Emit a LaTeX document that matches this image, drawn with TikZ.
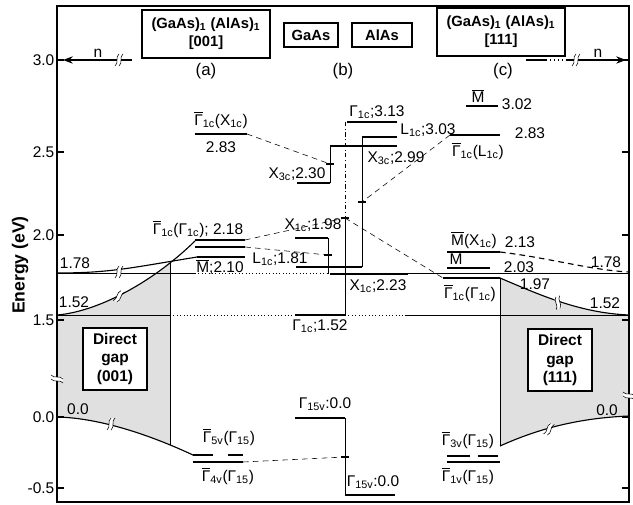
\documentclass[tikz,border=0pt]{standalone}
\usepackage{fontspec}
\setmainfont{Liberation Sans}
\usetikzlibrary{arrows.meta}

\newcommand{\Gb}{\ensuremath{\overline{\mbox{Γ}}}}
\newcommand{\Mb}{\ensuremath{\overline{\mbox{M}}}}
\newcommand{\lo}[1]{\textsubscript{#1}}

\tikzset{
  brk/.pic={
    \fill[white] (-1,-6) rectangle (3,6);
    \draw[thin] (-3,6) .. controls (1,3) and (-3,-3) .. (1,-6);
    \draw[thin] (1,6) .. controls (5,3) and (1,-3) .. (5,-6);
  }
}

\begin{document}
\begin{tikzpicture}[x=0.025cm, y=-0.025cm,
    lev/.style={line width=1.8pt},
    conn/.style={dash pattern=on 4pt off 3pt},
    lab/.style={font=\fontsize{11}{13}\selectfont, inner sep=1pt},
    tbox/.style={draw, line width=1.4pt, font=\bfseries\fontsize{10.5}{13}\selectfont, align=center, inner sep=2pt},
    gbox/.style={draw, line width=1.4pt, fill=white, font=\bfseries\fontsize{11}{13}\selectfont, align=center, minimum width=1.6cm, minimum height=1.55cm}
]
\useasboundingbox (0,0) rectangle (633,505);

% shaded gap regions
\begin{scope}
  \clip (57,200) rectangle (170,460);
  \fill[black!12] (57,315) .. controls (95,312) and (150,285) .. (195,241) -- (195,456) .. controls (150,435) and (100,418) .. (57,417) -- cycle;
\end{scope}
\fill[black!12] (500,278) .. controls (540,295) and (580,313) .. (629,315) -- (629,416) .. controls (580,418) and (540,428) .. (500,446) -- cycle;

% frame and axis
\draw[line width=1.2pt] (57,6) rectangle (629,502);
\foreach \yy/\tl in {60/3.0,152/2.5,235/2.0,320/1.5,417/0.0,488/-0.5}{
  \draw[thick] (57,\yy) -- ++(7,0);
  \draw[thick] (629,\yy) -- ++(-7,0);
  \node[lab, anchor=east] (t\yy) at (56,\yy) {\tl};
}
\pic[rotate=90] at (57,380) {brk};
\pic[rotate=90] at (629,397) {brk};
\node[rotate=90, font=\bfseries\fontsize{12.5}{15}\selectfont] (ylab) at (20,265) {Energy (eV)};

% structures
\node[tbox, minimum width=3.2cm, minimum height=1.2cm] (sla) at (206,34) {(GaAs)\lo{1} (AlAs)\lo{1}\\{[001]}};
\node[tbox, minimum width=1.35cm, minimum height=0.6cm] (gaas) at (311,35) {GaAs};
\node[tbox, minimum width=1.5cm, minimum height=0.6cm] (alas) at (382,35) {AlAs};
\node[tbox, minimum width=3.2cm, minimum height=1.18cm] (slc) at (501,32) {(GaAs)\lo{1} (AlAs)\lo{1}\\{[111]}};
\node[lab, font=\fontsize{12}{14}\selectfont] (pa) at (206,71) {(a)};
\node[lab, font=\fontsize{12}{14}\selectfont] (pb) at (343,71) {(b)};
\node[lab, font=\fontsize{12}{14}\selectfont] (pc) at (503,71) {(c)};

% period arrows
\coordinate (nl0) at (63,60);
\coordinate (nl1) at (132,60);
\draw[thick, -{Stealth[length=7pt]}] (nl1) -- (nl0);
\pic at (118,60) {brk};
\node[lab] (nl) at (98,53) {n};
\coordinate (nr0) at (526,60);
\coordinate (nr1) at (546,60);
\coordinate (nr2) at (566,60);
\coordinate (nr3) at (626,60);
\draw[thick] (nr0) -- (nr1);
\draw[thick, dotted] (nr1) -- (nr2);
\draw[thick, -{Stealth[length=7pt]}] (nr2) -- (nr3);
\pic at (575,60) {brk};
\node[lab] (nr) at (598,53) {n};

% reference lines
\draw[thin] (57,273) -- (195,273);
\draw[thin, dotted] (195,273) -- (330,273);
\draw[thin] (408,273) -- (629,273);
\draw[thin] (57,315) -- (170,315);
\draw[thin, dotted] (170,315) -- (295,315);
\draw[thin, dotted] (345,315) -- (405,315);
\draw[thin] (405,315) -- (629,315);

% (001) side
\draw[thick] (57,315) .. controls (95,312) and (150,285) .. (195,241);
\draw[thick] (57,273) .. controls (110,273) and (130,268) .. (197,257);
\draw[thick] (57,417) .. controls (100,418) and (150,435) .. (193,455);
\draw[thin] (170,263) -- (170,445);
\pic[rotate=-20] at (118,296) {brk};
\pic at (118,272) {brk};
\pic at (110,424) {brk};
\draw[lev] (195,134) -- (247,134);
\draw[lev] (195,240) -- (245,240);
\draw[lev] (195,247) -- (245,247);
\draw[lev] (197,257) -- (245,257);
\draw[lev] (193,455) -- (213,455);
\draw[lev] (228,455) -- (243,455);
\draw[lev] (193,462) -- (243,462);

% (111) side
\draw[thick] (500,278) .. controls (540,295) and (580,313) .. (629,315);
\draw[thick] (500,446) .. controls (540,428) and (580,418) .. (629,416);
\draw[thick, conn] (500,252) .. controls (550,258) and (590,270) .. (629,272);
\draw[thin] (500,278) -- (500,446);
\pic[rotate=20] at (557,303) {brk};
\pic[rotate=-15] at (548,429) {brk};
\draw[lev] (466,106) -- (498,106);
\draw[lev] (450,135) -- (500,135);
\draw[lev] (447,252) -- (500,252);
\draw[lev] (447,268) -- (490,268);
\draw[lev] (443,278) -- (500,278);
\draw[lev] (447,456) -- (470,456);
\draw[lev] (478,456) -- (498,456);
\draw[lev] (447,462) -- (500,462);

% bulk GaAs / AlAs
\draw[lev] (347,122) -- (397,122);
\draw[lev] (362,137) -- (397,137);
\draw[lev] (330,146) -- (397,146);
\draw[lev] (297,183) -- (330,183);
\draw[lev] (295,238) -- (328,238);
\draw[lev] (296,267) -- (362,267);
\draw[lev] (330,274) -- (408,274);
\draw[lev] (295,315) -- (345,315);
\draw[lev] (295,418) -- (345,418);
\draw[lev] (345,495) -- (395,495);
\draw[thin, dash dot] (345,122) -- (345,218);
\draw[thin] (345,218) -- (345,315);
\draw[thin] (362,137) -- (362,267);
\draw[thin] (330,146) -- (330,183);
\draw[thin] (328,238) -- (328,274);
\draw[thin] (345,418) -- (345,495);

% averages
\coordinate (mX3) at (330,164);
\coordinate (mL) at (362,202);
\coordinate (mG) at (345,218);
\coordinate (mX1) at (328,255);
\coordinate (mV) at (345,457);
\foreach \m in {mX3,mL,mG,mX1,mV}
  \draw[thick] ([xshift=-0.1cm]\m) -- ([xshift=0.1cm]\m);

% folding connectors
\coordinate (aX) at (247,134);
\coordinate (aG) at (245,240);
\coordinate (aX1) at (245,247);
\coordinate (aV) at (243,462);
\coordinate (cL) at (450,135);
\coordinate (cG) at (443,278);
\draw[conn] (aX) -- (mX3);
\draw[conn] (aG) -- (mG);
\draw[conn] (mG) -- (cG);
\draw[conn] (aX1) -- (mX1);
\draw[conn] (cL) -- (mL);
\draw[conn] (aV) -- (mV);

% gap boxes
\node[gbox] (dg1) at (115,359) {Direct\\gap\\(001)};
\node[gbox] (dg2) at (560,360) {Direct\\gap\\(111)};

% labels (001)
\node[lab] (l1) at (75,263) {1.78};
\node[lab] (l2) at (74,302) {1.52};
\node[lab] (l3) at (78,409) {0.0};
\node[lab] (l4) at (221,120) {\Gb\lo{1c}(X\lo{1c})};
\node[lab] (l5) at (221,147) {2.83};
\node[lab] (l6) at (198,229) {\Gb\lo{1c}(Γ\lo{1c}); 2.18};
\node[lab] (l7) at (220,267) {\Mb;2.10};
\node[lab] (l8) at (229,437) {\Gb\lo{5v}(Γ\lo{15})};
\node[lab] (l9) at (228,476) {\Gb\lo{4v}(Γ\lo{15})};

% labels bulk
\node[lab] (b1) at (377,112) {Γ\lo{1c};3.13};
\node[lab] (b2) at (428,130) {L\lo{1c};3.03};
\node[lab] (b3) at (396,158) {X\lo{3c};2.99};
\node[lab] (b4) at (297,174) {X\lo{3c};2.30};
\node[lab] (b5) at (313,225) {X\lo{1c};1.98};
\node[lab] (b6) at (280,259) {L\lo{1c};1.81};
\node[lab] (b7) at (378,286) {X\lo{1c};2.23};
\node[lab] (b8) at (320,326) {Γ\lo{1c};1.52};
\node[lab] (b9) at (325,404) {Γ\lo{15v}:0.0};
\node[lab] (b10) at (373,482) {Γ\lo{15v}:0.0};

% labels (111)
\node[lab] (r1) at (478,96) {\Mb};
\node[lab] (r2) at (517,104) {3.02};
\node[lab] (r3) at (530,133) {2.83};
\node[lab] (r4) at (478,151) {\Gb\lo{1c}(L\lo{1c})};
\node[lab] (r5) at (474,240) {\Mb(X\lo{1c})};
\node[lab] (r6) at (520,242) {2.13};
\node[lab] (r7) at (456,258) {\Mb};
\node[lab] (r8) at (519,267) {2.03};
\node[lab] (r9) at (470,293) {\Gb\lo{1c}(Γ\lo{1c})};
\node[lab] (r10) at (535,284) {1.97};
\node[lab] (r11) at (606,262) {1.78};
\node[lab] (r12) at (605,303) {1.52};
\node[lab] (r13) at (607,410) {0.0};
\node[lab] (r14) at (468,440) {\Gb\lo{3v}(Γ\lo{15})};
\node[lab] (r15) at (468,476) {\Gb\lo{1v}(Γ\lo{15})};
\end{tikzpicture}
\end{document}
